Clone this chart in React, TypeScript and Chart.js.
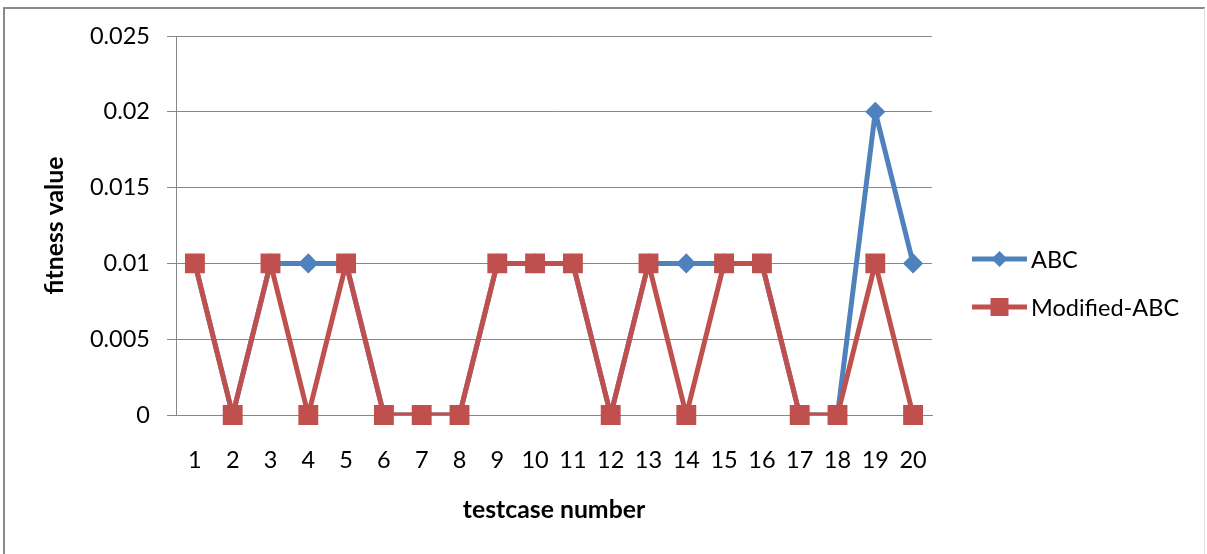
import React, { useEffect, useRef } from 'react';
import { Chart, registerables } from 'chart.js';

Chart.register(...registerables);

// Test case numbers along the category axis
const testcases = ['1', '2', '3', '4', '5', '6', '7', '8', '9', '10', '11', '12', '13', '14', '15', '16', '17', '18', '19', '20'];

// Fitness value per test case for each algorithm
const abcFitness = [0.01, 0, 0.01, 0.01, 0.01, 0, 0, 0, 0.01, 0.01, 0.01, 0, 0.01, 0.01, 0.01, 0.01, 0, 0, 0.02, 0.01];
const modifiedAbcFitness = [0.01, 0, 0.01, 0, 0.01, 0, 0, 0, 0.01, 0.01, 0.01, 0, 0.01, 0, 0.01, 0.01, 0, 0, 0.01, 0];

const seriesNames = ['ABC', 'Modified-ABC'];
const yTickLabels = ['0', '0.005', '0.01', '0.015', '0.02', '0.025'];
const yMin = 0;
const yMax = 0.025;
const yStep = 0.005;

const xTitle = 'testcase number';
const yTitle = 'fitness value';

const BLUE = '#4F81BD';
const RED = '#C0504D';
const GRID = '#878787';
const FONT = 'Lato, "Open Sans", sans-serif';

const W = 1207;
const H = 554;

// Axis titles and the line+marker legend drawn on the canvas
const decorations = {
  id: 'decorations',
  afterDraw(chart: any) {
    const { ctx, chartArea } = chart;
    ctx.save();
    ctx.fillStyle = '#000';

    // x title
    ctx.font = `bold 24.8px ${FONT}`;
    ctx.textAlign = 'center';
    ctx.textBaseline = 'alphabetic';
    ctx.fillText(xTitle, (chartArea.left + chartArea.right) / 2, 518);

    // y title
    ctx.save();
    ctx.translate(63, (chartArea.top + chartArea.bottom) / 2);
    ctx.rotate(-Math.PI / 2);
    ctx.fillText(yTitle, 0, 0);
    ctx.restore();

    // legend
    const lx = chartArea.right + 40;
    const rows = [
      { name: seriesNames[0], color: BLUE, shape: 'diamond', y: 259 },
      { name: seriesNames[1], color: RED, shape: 'square', y: 307 },
    ];
    ctx.font = `23.5px ${FONT}`;
    ctx.textAlign = 'left';
    ctx.textBaseline = 'middle';
    for (const r of rows) {
      ctx.strokeStyle = r.color;
      ctx.fillStyle = r.color;
      ctx.lineWidth = 5;
      ctx.beginPath();
      ctx.moveTo(lx, r.y);
      ctx.lineTo(lx + 55, r.y);
      ctx.stroke();
      const cx = lx + 27.5;
      ctx.beginPath();
      if (r.shape === 'diamond') {
        ctx.moveTo(cx, r.y - 8);
        ctx.lineTo(cx + 8, r.y);
        ctx.lineTo(cx, r.y + 8);
        ctx.lineTo(cx - 8, r.y);
        ctx.closePath();
      } else {
        ctx.rect(cx - 9, r.y - 9, 18, 18);
      }
      ctx.fill();
      ctx.fillStyle = '#000';
      ctx.fillText(r.name, lx + 59, r.y + 1);
    }
    ctx.restore();
  },
};

const clipBottom = { left: false, top: false, right: false, bottom: 0 };

export default function App() {
  const canvasRef = useRef<HTMLCanvasElement | null>(null);

  useEffect(() => {
    const canvas = canvasRef.current;
    if (!canvas) return;
    Chart.defaults.font.family = FONT;
    Chart.defaults.color = '#000';

    const chart = new Chart(canvas, {
      type: 'line',
      data: {
        labels: testcases,
        datasets: [
          {
            label: seriesNames[0],
            data: abcFitness,
            borderColor: BLUE,
            backgroundColor: BLUE,
            borderWidth: 5,
            pointRadius: 0,
            tension: 0,
            borderJoinStyle: 'round',
            clip: clipBottom as any,
            order: 4,
          },
          {
            label: seriesNames[0] + ' markers',
            data: abcFitness,
            showLine: false,
            pointStyle: 'rectRot',
            pointRadius: 9,
            pointBorderWidth: 1.5,
            pointBackgroundColor: BLUE,
            pointBorderColor: BLUE,
            clip: false as any,
            order: 3,
          },
          {
            label: seriesNames[1],
            data: modifiedAbcFitness,
            borderColor: RED,
            backgroundColor: RED,
            borderWidth: 5,
            pointRadius: 0,
            tension: 0,
            borderJoinStyle: 'round',
            clip: clipBottom as any,
            order: 2,
          },
          {
            label: seriesNames[1] + ' markers',
            data: modifiedAbcFitness,
            showLine: false,
            pointStyle: 'rect',
            pointRadius: 13,
            pointBorderWidth: 1.5,
            pointBackgroundColor: RED,
            pointBorderColor: RED,
            clip: false as any,
            order: 1,
          },
        ],
      },
      options: {
        responsive: false,
        animation: false,
        devicePixelRatio: 1,
        layout: { padding: { left: 0, right: W - 932, top: 36, bottom: 0 } },
        plugins: {
          legend: { display: false },
          tooltip: { enabled: false },
        },
        scales: {
          x: {
            offset: true,
            grid: { display: false, drawTicks: false, tickLength: 0 },
            border: { display: true, color: GRID, width: 1 },
            ticks: {
              font: { size: 23.5 },
              color: '#000',
              padding: 31,
              maxRotation: 0,
              autoSkip: false,
            },
            afterFit(scale: any) {
              scale.height = H - 415;
            },
          },
          y: {
            min: yMin,
            max: yMax,
            grid: { color: GRID, lineWidth: 1, drawTicks: true, tickLength: 9 },
            border: { display: true, color: GRID, width: 1 },
            ticks: {
              stepSize: yStep,
              font: { size: 23.5 },
              color: '#000',
              padding: 17,
              callback: (_v: any, i: number) => yTickLabels[i],
            },
            afterFit(scale: any) {
              scale.width = 176;
            },
          },
        },
      },
      plugins: [decorations],
    });

    return () => chart.destroy();
  }, []);

  return (
    <div style={{ position: 'absolute', left: 0, top: 0, width: W, height: H, background: '#fff' }}>
      <canvas ref={canvasRef} width={W} height={H} style={{ position: 'absolute', left: 0, top: 0 }} />
      <div
        style={{
          position: 'absolute',
          left: 3,
          top: 7,
          width: 1202,
          height: 547,
          borderLeft: '2px solid #8a8a8a',
          borderTop: '2px solid #8a8a8a',
          borderRight: '1px solid #e0e0e0',
          boxSizing: 'border-box',
          pointerEvents: 'none',
        }}
      />
    </div>
  );
}
